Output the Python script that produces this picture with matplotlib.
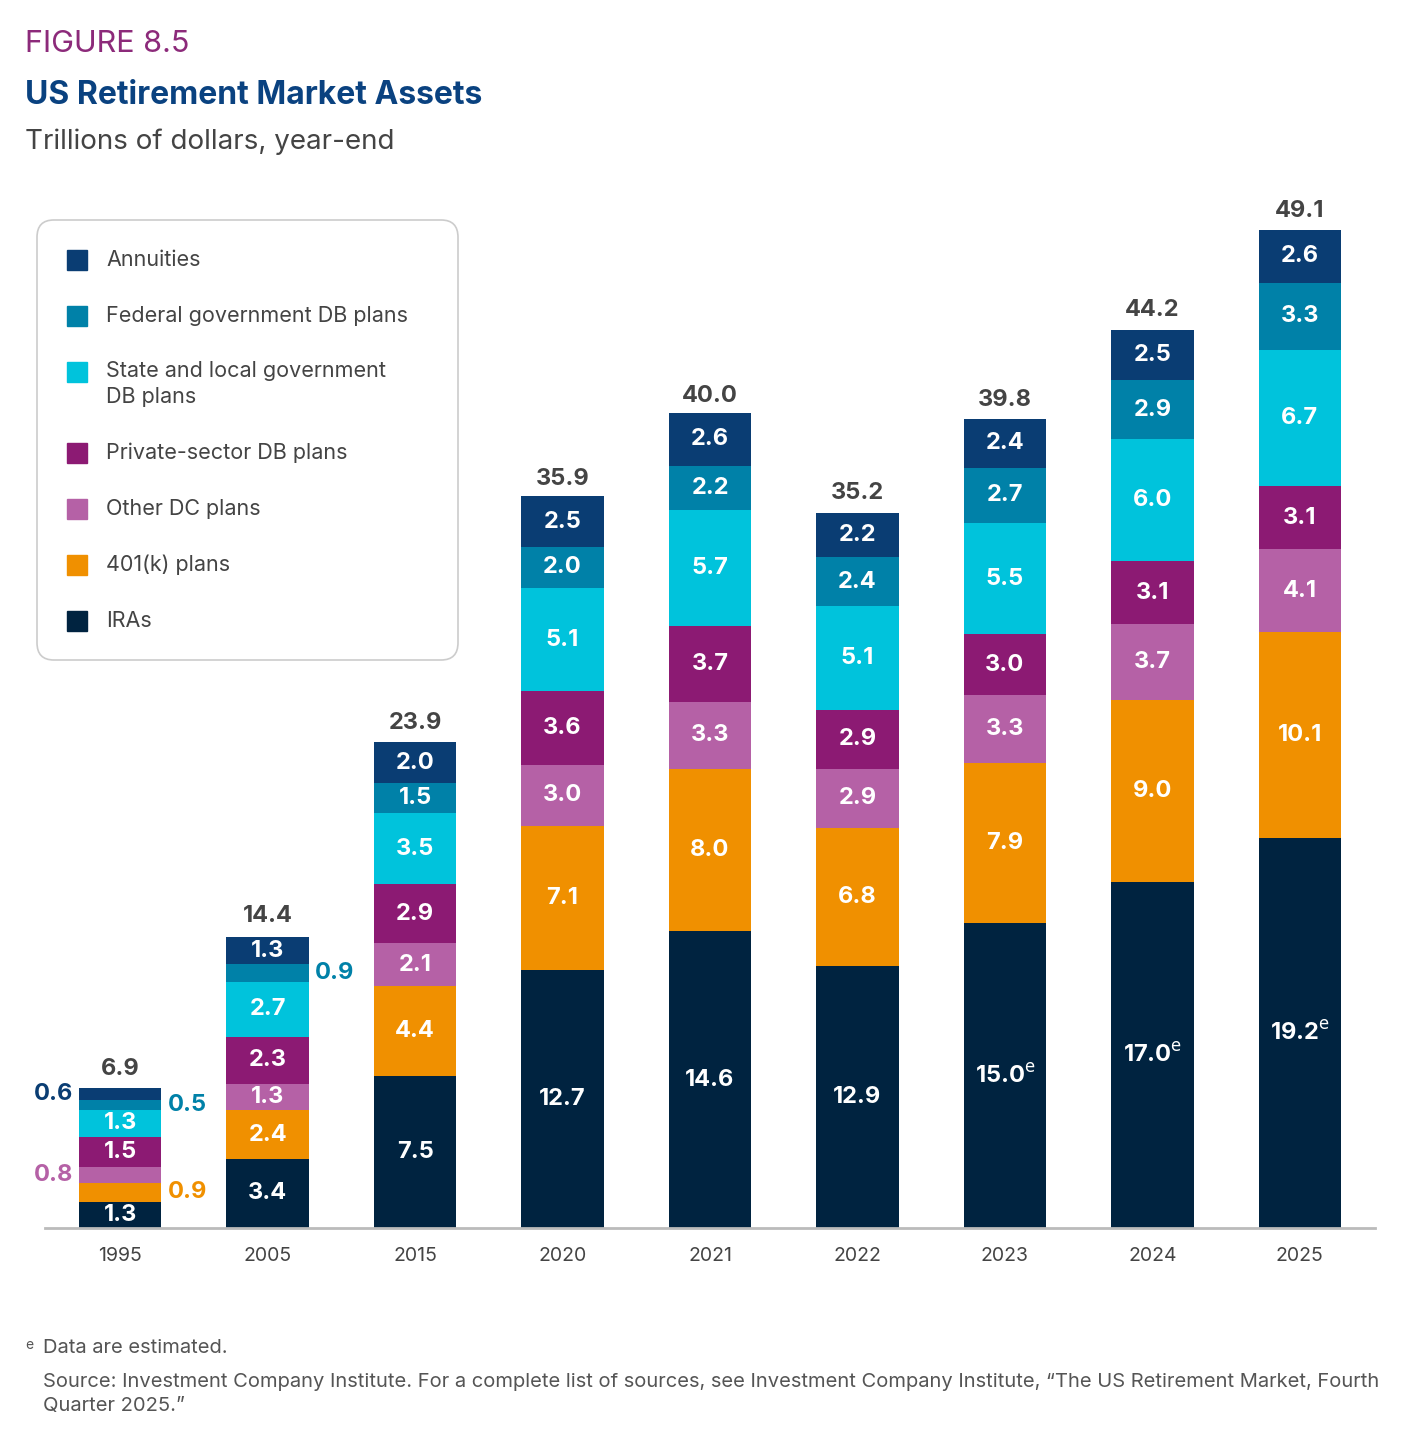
import matplotlib
matplotlib.use("Agg")
import matplotlib.pyplot as plt
from matplotlib.patches import FancyBboxPatch, Rectangle

plt.rcParams['font.family'] = ['Inter', 'DejaVu Sans']

years = ["1995", "2005", "2015", "2020", "2021", "2022", "2023", "2024", "2025"]
iras = [1.3, 3.4, 7.5, 12.7, 14.6, 12.9, 15.0, 17.0, 19.2]
k401 = [0.9, 2.4, 4.4, 7.1, 8.0, 6.8, 7.9, 9.0, 10.1]
other_dc = [0.8, 1.3, 2.1, 3.0, 3.3, 2.9, 3.3, 3.7, 4.1]
private_db = [1.5, 2.3, 2.9, 3.6, 3.7, 2.9, 3.0, 3.1, 3.1]
state_db = [1.3, 2.7, 3.5, 5.1, 5.7, 5.1, 5.5, 6.0, 6.7]
federal_db = [0.5, 0.9, 1.5, 2.0, 2.2, 2.4, 2.7, 2.9, 3.3]
annuities = [0.6, 1.3, 2.0, 2.5, 2.6, 2.2, 2.4, 2.5, 2.6]
totals = [6.9, 14.4, 23.9, 35.9, 40.0, 35.2, 39.8, 44.2, 49.1]
estimated = [False, False, False, False, False, False, True, True, True]

series = [iras, k401, other_dc, private_db, state_db, federal_db, annuities]
names = ["IRAs", "401(k) plans", "Other DC plans", "Private-sector DB plans",
         "State and local government\nDB plans", "Federal government DB plans", "Annuities"]
colors = ["#002340", "#F09000", "#B561A6", "#8C1A73", "#00C3DC", "#0081A8", "#0A3D73"]

fig = plt.figure(figsize=(14.01, 14.4), dpi=100)
ax = fig.add_axes([45/1401, 1 - 1228/1440, 1330/1401, 998/1440])
ax.set_xlim(-0.51, 8.51)
ax.set_ylim(0, 49.1)

x = list(range(len(years)))
bottom = [0.0] * len(years)
for si, (vals, col) in enumerate(zip(series, colors)):
    ax.bar(x, vals, bottom=bottom, width=0.56, color=col, edgecolor="none")
    for i, v in enumerate(vals):
        yc = bottom[i] + v / 2
        small = (i == 0 and si in (1, 2, 5, 6)) or (i == 1 and si == 5)
        if small:
            side = -1 if (i == 0 and si in (2, 6)) else 1
            ax.text(i + side * 0.32, yc, f"{v:.1f}", ha="left" if side > 0 else "right",
                    va="center", color=col, fontsize=17, fontweight="bold")
        else:
            lab = f"{v:.1f}"
            if si == 0 and estimated[i]:
                lab = f"{v:.1f}$^{{\\mathrm{{e}}}}$"
            ax.text(i, yc, lab, ha="center", va="center", color="white",
                    fontsize=17, fontweight="bold")
        bottom[i] += v

for i, t in enumerate(totals):
    ax.text(i, t + 0.4, f"{t:.1f}", ha="center", va="bottom", color="#444444",
            fontsize=17, fontweight="bold")

for s in ["top", "right", "left"]:
    ax.spines[s].set_visible(False)
ax.spines["bottom"].set_color("#BBBBBB")
ax.spines["bottom"].set_linewidth(2)
ax.set_yticks([])
ax.set_xticks(x)
ax.set_xticklabels(years, fontsize=14, color="#444444")
ax.tick_params(axis="x", length=0, pad=14)

# titles
fig.text(25/1401, 1 - 44/1440, "FIGURE 8.5", color="#8C2A7A", fontsize=22, va="center")
fig.text(25/1401, 1 - 95/1440, "US Retirement Market Assets", color="#0A4280",
         fontsize=23, fontweight="bold", va="center")
fig.text(25/1401, 1 - 142/1440, "Trillions of dollars, year-end", color="#444444",
         fontsize=20, va="center")

# legend box
box = FancyBboxPatch((37/1401, 1 - 660/1440), 421/1401, 440/1440,
                     boxstyle="round,pad=0,rounding_size=0.012", transform=fig.transFigure,
                     facecolor="white", edgecolor="#CCCCCC", linewidth=1.2)
fig.patches.append(box)
leg_y = [260, 316, 384, 453, 509, 565, 621]
leg_order = [6, 5, 4, 3, 2, 1, 0]
for yy, si in zip(leg_y, leg_order):
    sq_y = 372 if si == 4 else yy
    fig.patches.append(Rectangle((67/1401, 1 - (sq_y + 10)/1440), 20/1401, 20/1440,
                                 transform=fig.transFigure, color=colors[si]))
    fig.text(106/1401, 1 - yy/1440, names[si], fontsize=15.5, color="#444444", va="center",
             linespacing=1.4)

# footnotes
fig.text(25/1401, 1 - 1345/1440, "e", fontsize=10, color="#555555", va="center")
fig.text(43/1401, 1 - 1348/1440, "Data are estimated.", fontsize=14.5, color="#555555", va="center")
fig.text(43/1401, 1 - 1394/1440,
         "Source: Investment Company Institute. For a complete list of sources, see Investment Company Institute, \u201cThe US Retirement Market, Fourth\nQuarter 2025.\u201d",
         fontsize=14.5, color="#555555", va="center", linespacing=1.45)

fig.savefig("out.png", dpi=100, facecolor="white")
